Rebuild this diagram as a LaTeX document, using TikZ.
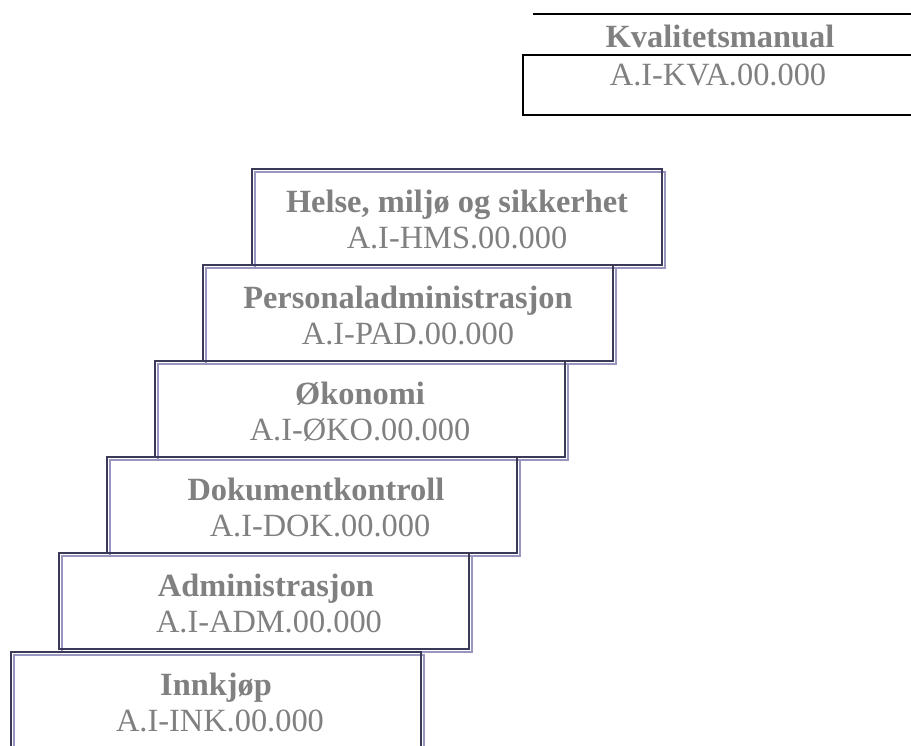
\documentclass[tikz,border=0pt]{standalone}
\usepackage{fontspec}
\setmainfont{Liberation Serif}
\usetikzlibrary{calc}
\definecolor{txtgray}{RGB}{128,128,128}
\definecolor{darkframe}{RGB}{58,58,88}
\definecolor{lavframe}{RGB}{152,150,190}
\begin{document}
\begin{tikzpicture}[x=0.75pt,y=-0.75pt,
  stairbox/.style={draw=none, minimum width=307.5pt, minimum height=72pt, inner sep=0pt, outer sep=0pt, anchor=north west},
  darkline/.style={draw=darkframe, line width=1.5pt},
  lavline/.style={draw=lavframe, line width=1.5pt},
  title/.style={font=\fontsize{24.3}{29}\selectfont\bfseries, text=txtgray, anchor=base, inner sep=0pt},
  code/.style={font=\fontsize{24.3}{29}\selectfont, text=txtgray, anchor=base, inner sep=0pt},
  topframe/.style={draw=black, line width=1.5pt}]
\path[use as bounding box] (0,0) rectangle (911,746);
\clip (0,0) rectangle (911,746);
\fill[white] (0,0) rectangle (911,746);
% top header
\coordinate (ruleL) at (533,14);
\coordinate (ruleR) at (915,14);
\draw[topframe] (ruleL) -- (ruleR);
\node[topframe, anchor=north west, minimum width=302.25pt, minimum height=45pt, inner sep=0pt] (kvabox) at (522,54) {};
\node[title] (kvaT) at (720,47) {Kvalitetsmanual};
\node[code] (kvaC) at (718,85) {A.I-KVA.00.000};
% stair boxes
\node[stairbox] (hms) at (252,169) {};
\node[stairbox] (pad) at (203,265) {};
\node[stairbox] (oko) at (155,361) {};
\node[stairbox] (dok) at (107,457) {};
\node[stairbox] (adm) at (59,553) {};
\node[stairbox] (ink) at (11,652) {};
\foreach \b in {hms,pad,oko,dok,adm,ink}{
  \draw[lavline] ($(\b.north west)+(3,3)$) rectangle ($(\b.south east)+(3,3)$);
}
\foreach \b in {hms,pad,oko,dok,adm,ink}{
  \draw[darkline] (\b.north west) rectangle (\b.south east);
}
\node[title] (hmsT) at ($(hms.north)+(0,43)$) {Helse, miljø og sikkerhet};
\node[code] (hmsC) at ($(hms.north)+(0,79)$) {A.I-HMS.00.000};
\node[title] (padT) at ($(pad.north)+(0,43)$) {Personaladministrasjon};
\node[code] (padC) at ($(pad.north)+(0,79)$) {A.I-PAD.00.000};
\node[title] (okoT) at ($(oko.north)+(0,43)$) {Økonomi};
\node[code] (okoC) at ($(oko.north)+(0,79)$) {A.I-ØKO.00.000};
\node[title] (dokT) at ($(dok.north)+(4,43)$) {Dokumentkontroll};
\node[code] (dokC) at ($(dok.north)+(8,79)$) {A.I-DOK.00.000};
\node[title] (admT) at ($(adm.north)+(2,43)$) {Administrasjon};
\node[code] (admC) at ($(adm.north)+(5,79)$) {A.I-ADM.00.000};
\node[title] (inkT) at ($(ink.north)+(0,43)$) {Innkjøp};
\node[code] (inkC) at ($(ink.north)+(4,79)$) {A.I-INK.00.000};
\end{tikzpicture}
\end{document}
